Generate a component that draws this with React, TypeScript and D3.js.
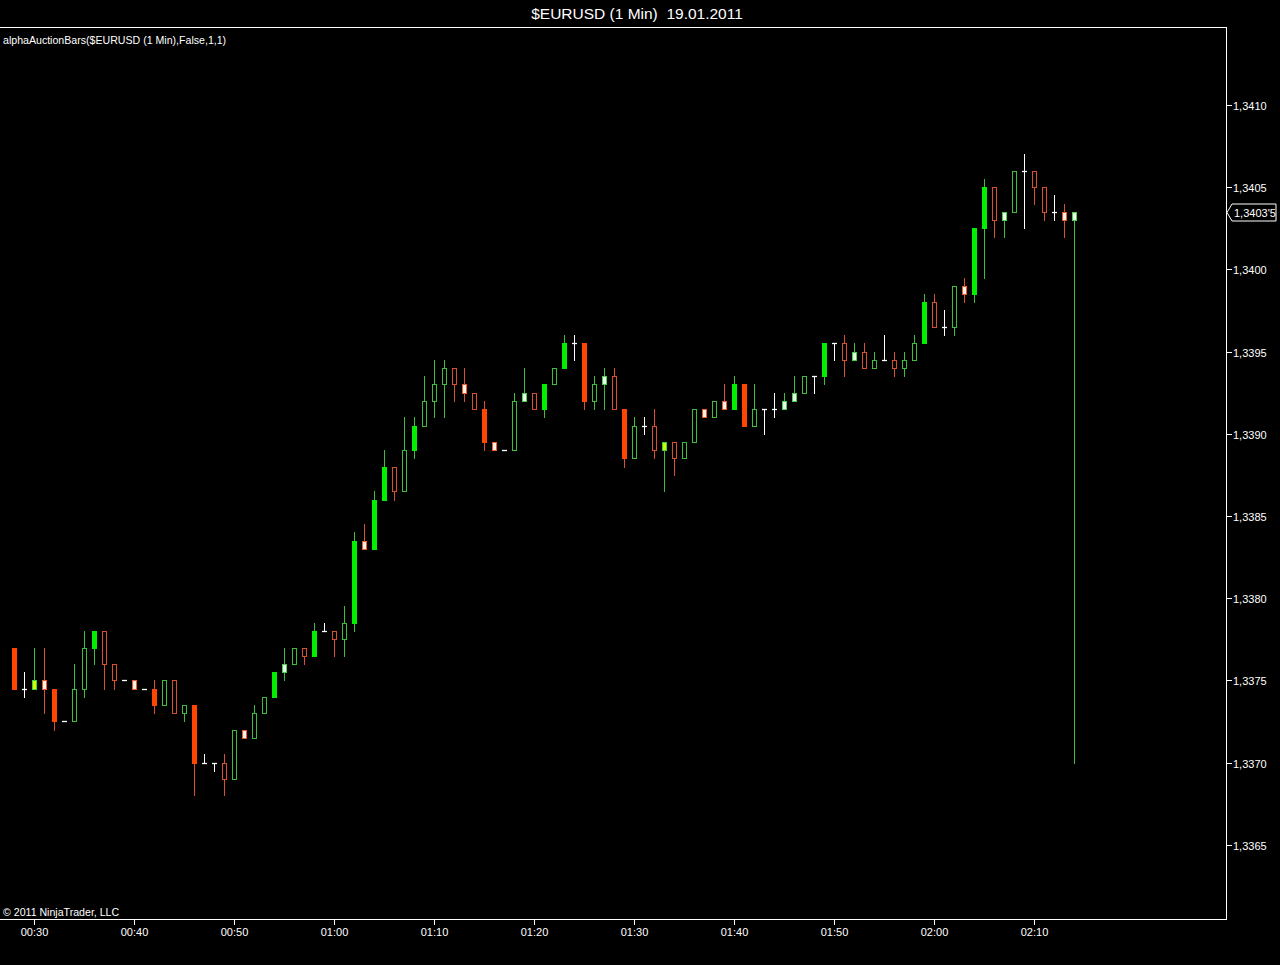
import React from "react";
import * as d3 from "d3";

const TITLE = "$EURUSD (1 Min)  19.01.2011";
const INDICATOR = "alphaAuctionBars($EURUSD (1 Min),False,1,1)";
const COPYRIGHT = "© 2011 NinjaTrader, LLC";
const LAST_PRICE = 1.34035;
const LAST_PRICE_LABEL = "1,3403'5";

const TIMES = [
  "00:28","00:29","00:30","00:31","00:32","00:33","00:34","00:35","00:36","00:37","00:38","00:39",
  "00:40","00:41","00:42","00:43","00:44","00:45","00:46","00:47","00:48","00:49",
  "00:50","00:51","00:52","00:53","00:54","00:55","00:56","00:57","00:58","00:59",
  "01:00","01:01","01:02","01:03","01:04","01:05","01:06","01:07","01:08","01:09",
  "01:10","01:11","01:12","01:13","01:14","01:15","01:16","01:17","01:18","01:19",
  "01:20","01:21","01:22","01:23","01:24","01:25","01:26","01:27","01:28","01:29",
  "01:30","01:31","01:32","01:33","01:34","01:35","01:36","01:37","01:38","01:39",
  "01:40","01:41","01:42","01:43","01:44","01:45","01:46","01:47","01:48","01:49",
  "01:50","01:51","01:52","01:53","01:54","01:55","01:56","01:57","01:58","01:59",
  "02:00","02:01","02:02","02:03","02:04","02:05","02:06","02:07","02:08","02:09",
  "02:10","02:11","02:12","02:13","02:14",
];

const OPEN = [
  1.3377, 1.33745, 1.33745, 1.3375, 1.33745, 1.33725, 1.33725, 1.33745, 1.3377, 1.3378,
  1.3376, 1.3375, 1.3375, 1.33745, 1.33745, 1.33735, 1.3375, 1.3373, 1.33735, 1.337,
  1.337, 1.337, 1.3369, 1.3372, 1.33715, 1.3373, 1.3374, 1.33755, 1.3376, 1.3377,
  1.33765, 1.3378, 1.3378, 1.33775, 1.33785, 1.33835, 1.3383, 1.3386, 1.3388, 1.33865,
  1.3389, 1.33905, 1.3392, 1.3393, 1.3394, 1.3393, 1.33925, 1.33915, 1.33895, 1.3389,
  1.3389, 1.3392, 1.33925, 1.33915, 1.3393, 1.3394, 1.33955, 1.33955, 1.3392, 1.3393,
  1.33935, 1.33915, 1.33885, 1.33905, 1.33905, 1.3389, 1.33895, 1.33885, 1.33895, 1.33915,
  1.3391, 1.3392, 1.33915, 1.3393, 1.33905, 1.33915, 1.33915, 1.33915, 1.3392, 1.33925,
  1.33935, 1.33935, 1.33955, 1.33955, 1.33945, 1.3395, 1.3394, 1.33945, 1.33945, 1.3394,
  1.33945, 1.33955, 1.3398, 1.33965, 1.33965, 1.3399, 1.33985, 1.34025, 1.3405, 1.3403,
  1.34035, 1.3406, 1.3406, 1.3405, 1.34035, 1.34035, 1.3403,
];

const HIGH = [
  1.3377, 1.33755, 1.3377, 1.3377, 1.33745, 1.33725, 1.3376, 1.3378, 1.3378, 1.3378,
  1.3376, 1.3375, 1.3375, 1.33745, 1.3375, 1.3375, 1.3375, 1.33735, 1.33735, 1.33705,
  1.337, 1.33705, 1.3372, 1.3372, 1.33735, 1.3374, 1.33755, 1.3377, 1.3377, 1.3377,
  1.33785, 1.33785, 1.3378, 1.33795, 1.3384, 1.33845, 1.33865, 1.3389, 1.3388, 1.3391,
  1.3391, 1.33935, 1.33945, 1.33945, 1.3394, 1.3394, 1.33925, 1.3392, 1.33895, 1.3389,
  1.33925, 1.3394, 1.33925, 1.3393, 1.3394, 1.3396, 1.3396, 1.33955, 1.33935, 1.3394,
  1.3394, 1.33915, 1.3391, 1.3391, 1.33915, 1.33895, 1.33895, 1.33895, 1.33915, 1.33915,
  1.3392, 1.3393, 1.33935, 1.3393, 1.3393, 1.33915, 1.33925, 1.33925, 1.33935, 1.33935,
  1.33935, 1.33955, 1.33955, 1.3396, 1.33955, 1.33955, 1.3395, 1.3396, 1.3395, 1.3395,
  1.3396, 1.33985, 1.33985, 1.33975, 1.3399, 1.33995, 1.34025, 1.34055, 1.3405, 1.34035,
  1.3406, 1.3407, 1.3406, 1.3405, 1.34045, 1.3404, 1.34035,
];

const LOW = [
  1.33745, 1.3374, 1.33745, 1.3373, 1.3372, 1.33725, 1.33725, 1.3374, 1.3376, 1.33745,
  1.33745, 1.3375, 1.33745, 1.33745, 1.3373, 1.33735, 1.3373, 1.33725, 1.3368, 1.337,
  1.33695, 1.3368, 1.3369, 1.33715, 1.33715, 1.3373, 1.3374, 1.3375, 1.3376, 1.3376,
  1.33765, 1.3378, 1.33765, 1.33765, 1.3378, 1.3383, 1.3383, 1.3386, 1.3386, 1.33865,
  1.33885, 1.33905, 1.3391, 1.3391, 1.3392, 1.3392, 1.33915, 1.3389, 1.3389, 1.3389,
  1.3389, 1.3392, 1.33915, 1.3391, 1.3393, 1.3394, 1.33945, 1.33915, 1.33915, 1.33915,
  1.33915, 1.3388, 1.33885, 1.339, 1.33885, 1.33865, 1.33875, 1.33885, 1.33895, 1.3391,
  1.3391, 1.33915, 1.33915, 1.33905, 1.33905, 1.339, 1.3391, 1.33915, 1.3392, 1.33925,
  1.33925, 1.3393, 1.33945, 1.33935, 1.33945, 1.3394, 1.3394, 1.33945, 1.33935, 1.33935,
  1.33945, 1.33955, 1.33965, 1.3396, 1.3396, 1.3398, 1.3398, 1.33995, 1.3402, 1.3402,
  1.34035, 1.34025, 1.3404, 1.3403, 1.3403, 1.3402, 1.337,
];

const CLOSE = [
  1.33745, 1.33745, 1.3375, 1.33745, 1.33725, 1.33725, 1.33745, 1.3377, 1.3378, 1.3376,
  1.3375, 1.3375, 1.33745, 1.33745, 1.33735, 1.3375, 1.3373, 1.33735, 1.337, 1.337,
  1.337, 1.3369, 1.3372, 1.33715, 1.3373, 1.3374, 1.33755, 1.3376, 1.3377, 1.33765,
  1.3378, 1.3378, 1.33775, 1.33785, 1.33835, 1.3383, 1.3386, 1.3388, 1.33865, 1.3389,
  1.33905, 1.3392, 1.3393, 1.3394, 1.3393, 1.33925, 1.33915, 1.33895, 1.3389, 1.3389,
  1.3392, 1.33925, 1.33915, 1.3393, 1.3394, 1.33955, 1.33955, 1.3392, 1.3393, 1.33935,
  1.33915, 1.33885, 1.33905, 1.33905, 1.3389, 1.33895, 1.33885, 1.33895, 1.33915, 1.3391,
  1.3392, 1.33915, 1.3393, 1.33905, 1.33915, 1.33915, 1.33915, 1.3392, 1.33925, 1.33935,
  1.33935, 1.33955, 1.33955, 1.33945, 1.3395, 1.3394, 1.33945, 1.33945, 1.3394, 1.33945,
  1.33955, 1.3398, 1.33965, 1.33965, 1.3399, 1.33985, 1.34025, 1.3405, 1.3403, 1.34035,
  1.3406, 1.3406, 1.3405, 1.34035, 1.34035, 1.3403, 1.34035,
];

// F = filled, H = hollow, W = white body, Y = yellow body, D = doji
const BAR_STYLE = [
  "F","D","Y","W","F","D","H","H","F","H",
  "H","D","W","D","F","H","H","H","F","D",
  "D","H","H","W","H","H","F","W","H","H",
  "F","D","H","H","F","W","F","F","H","H",
  "F","H","H","H","H","W","H","F","W","D",
  "H","W","H","F","H","F","D","F","H","W",
  "H","F","H","D","H","Y","H","H","H","W",
  "H","W","F","F","H","D","D","W","W","H",
  "D","F","D","H","W","H","H","D","H","H",
  "H","F","H","D","H","W","F","F","H","W",
  "H","D","H","H","D","W","W",
];

const PRICE_TICKS = [1.3365, 1.337, 1.3375, 1.338, 1.3385, 1.339, 1.3395, 1.34, 1.3405, 1.341];
const TIME_TICKS = ["00:30", "00:40", "00:50", "01:00", "01:10", "01:20", "01:30", "01:40", "01:50", "02:00", "02:10"];

const COLORS = {
  greenFill: "#00f000",
  greenLine: "#3cbe3c",
  redFill: "#ff4500",
  redLine: "#d8502c",
  whiteRedFill: "#fff2ea",
  whiteRedLine: "#f05a28",
  whiteGreenFill: "#e8ffe8",
  whiteGreenLine: "#4ccf4c",
  yellowFill: "#ccff00",
  yellowLine: "#44cc44",
  doji: "#ffffff",
};

const W = 1280;
const H = 965;
const AXIS_X = 1226;
const TOP_Y = 27;
const BOTTOM_Y = 919;
const FONT = "'Liberation Sans', Arial, sans-serif";

export default function App() {
  const parse = d3.timeParse("%H:%M");
  const x = d3.scaleTime().domain([parse("00:30")!, parse("02:10")!]).range([34, 1034]);
  const y = d3.scaleLinear().domain([1.3365, 1.341]).range([844.8, 105]);
  const fmt = (p: number) => d3.format(".4f")(p).replace(".", ",");
  const ry = (p: number) => Math.round(y(p));

  const bars = TIMES.map((t, i) => {
    const cx = Math.round(x(parse(t)!));
    const o = OPEN[i], h = HIGH[i], l = LOW[i], c = CLOSE[i];
    const st = BAR_STYLE[i];
    const up = c >= o;
    const top = ry(Math.max(o, c));
    const bot = ry(Math.min(o, c));
    const yh = ry(h);
    const yl = ry(l);
    const wx = cx + 0.5;
    const els: React.ReactNode[] = [];
    if (st === "D") {
      if (yl > yh) els.push(<line key="v" x1={wx} x2={wx} y1={yh} y2={yl + 1} stroke={COLORS.doji} strokeWidth={1} />);
      els.push(<line key="hz" x1={cx - 2} x2={cx + 3} y1={top + 0.5} y2={top + 0.5} stroke={COLORS.doji} strokeWidth={1.3} />);
      return <g key={i}>{els}</g>;
    }
    let fill = "#000", stroke = "", wick = "";
    if (st === "F") {
      fill = up ? COLORS.greenFill : COLORS.redFill;
      stroke = fill;
      wick = up ? COLORS.greenLine : COLORS.redLine;
    } else if (st === "H") {
      fill = "#000";
      stroke = up ? COLORS.greenLine : COLORS.redLine;
      wick = stroke;
    } else if (st === "W") {
      fill = up ? COLORS.whiteGreenFill : COLORS.whiteRedFill;
      stroke = up ? COLORS.whiteGreenLine : COLORS.whiteRedLine;
      wick = up ? COLORS.greenLine : COLORS.redLine;
    } else {
      fill = COLORS.yellowFill;
      stroke = COLORS.yellowLine;
      wick = COLORS.greenLine;
    }
    if (yh < top) els.push(<line key="uw" x1={wx} x2={wx} y1={yh} y2={top} stroke={wick} strokeWidth={1} />);
    if (yl > bot) els.push(<line key="lw" x1={wx} x2={wx} y1={bot} y2={yl + 1} stroke={wick} strokeWidth={1} />);
    if (st === "F") {
      els.push(<rect key="b" x={cx - 2} y={top} width={5} height={Math.max(1, bot - top + 1)} fill={fill} />);
    } else {
      els.push(
        <rect key="b" x={cx - 1.5} y={top + 0.5} width={4} height={Math.max(1, bot - top)} fill={fill} stroke={stroke} strokeWidth={1} />
      );
    }
    return <g key={i}>{els}</g>;
  });

  const tagY = ry(LAST_PRICE);

  return (
    <div style={{ position: "absolute", left: 0, top: 0 }}>
      <svg width={W} height={H} style={{ display: "block", background: "#000" }}>
        <rect x={0} y={0} width={W} height={H} fill="#000" />
        <text x={637} y={19} fill="#fff" fontFamily={FONT} fontSize={15.5} textAnchor="middle" style={{ whiteSpace: "pre" }}>
          {TITLE}
        </text>
        {/* frame */}
        <line x1={0} x2={AXIS_X + 0.5} y1={TOP_Y + 0.5} y2={TOP_Y + 0.5} stroke="#fff" strokeWidth={1} />
        <line x1={0} x2={AXIS_X + 0.5} y1={BOTTOM_Y + 0.5} y2={BOTTOM_Y + 0.5} stroke="#fff" strokeWidth={1} />
        <line x1={AXIS_X + 0.5} x2={AXIS_X + 0.5} y1={TOP_Y} y2={BOTTOM_Y + 1} stroke="#fff" strokeWidth={1} />

        <text x={3} y={44} fill="#fff" fontFamily={FONT} fontSize={10.6}>{INDICATOR}</text>
        <text x={3} y={916} fill="#fff" fontFamily={FONT} fontSize={10.6}>{COPYRIGHT}</text>

        {/* price axis */}
        {PRICE_TICKS.map((p) => {
          const py = ry(p) + 0.5;
          return (
            <g key={p}>
              <line x1={AXIS_X} x2={AXIS_X + 6} y1={py} y2={py} stroke="#fff" strokeWidth={1} />
              <text x={AXIS_X + 7} y={py + 4} fill="#fff" fontFamily={FONT} fontSize={11}>{fmt(p)}</text>
            </g>
          );
        })}

        {/* time axis */}
        {TIME_TICKS.map((t) => {
          const tx = Math.round(x(parse(t)!)) + 0.5;
          return (
            <g key={t}>
              <line x1={tx} x2={tx} y1={BOTTOM_Y} y2={BOTTOM_Y + 6} stroke="#fff" strokeWidth={1} />
              <text x={tx} y={936} fill="#fff" fontFamily={FONT} fontSize={11} textAnchor="middle">{t}</text>
            </g>
          );
        })}

        {/* candles */}
        <g>{bars}</g>

        {/* last price tag */}
        <polygon
          points={`${AXIS_X + 1},${tagY + 0.5} ${AXIS_X + 6},${tagY - 8} ${W - 4},${tagY - 8} ${W - 4},${tagY + 9} ${AXIS_X + 6},${tagY + 9}`}
          fill="#000"
          stroke="#fff"
          strokeWidth={1}
        />
        <text x={AXIS_X + 8} y={tagY + 4.5} fill="#fff" fontFamily={FONT} fontSize={11}>{LAST_PRICE_LABEL}</text>
      </svg>
    </div>
  );
}
